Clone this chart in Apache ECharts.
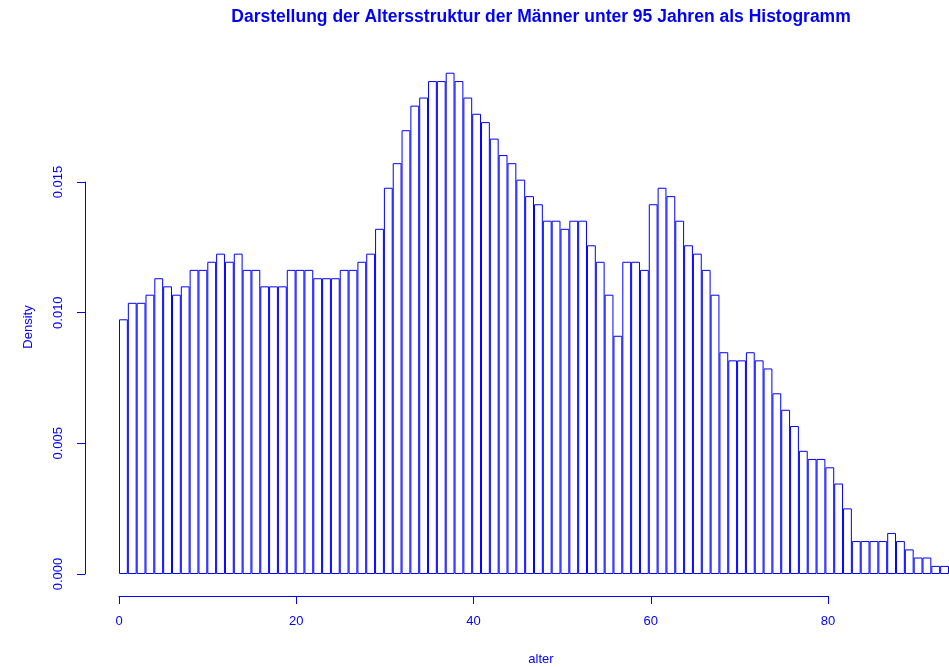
<!DOCTYPE html>
<html>
<head>
<meta charset="utf-8">
<script src="https://cdn.jsdelivr.net/npm/echarts@6/dist/echarts.min.js"></script>
<style>
  html, body { margin: 0; padding: 0; background: #fff; }
  #chart { width: 949px; height: 667px; }
</style>
</head>
<body>
<div id="chart"></div>
<script>
// Altersklassen 0..93 (Breite 1 Jahr)
const bins = ['0','1','2','3','4','5','6','7','8','9','10','11','12','13','14','15','16','17','18','19',
  '20','21','22','23','24','25','26','27','28','29','30','31','32','33','34','35','36','37','38','39',
  '40','41','42','43','44','45','46','47','48','49','50','51','52','53','54','55','56','57','58','59',
  '60','61','62','63','64','65','66','67','68','69','70','71','72','73','74','75','76','77','78','79',
  '80','81','82','83','84','85','86','87','88','89','90','91','92','93']

// Dichte je Klasse
const density = [
  0.00974, 0.01037, 0.01037, 0.01068, 0.01131, 0.01100, 0.01068, 0.01100, 0.01163, 0.01163,
  0.01194, 0.01225, 0.01194, 0.01225, 0.01163, 0.01163, 0.01100, 0.01100, 0.01100, 0.01163,
  0.01163, 0.01163, 0.01131, 0.01131, 0.01131, 0.01163, 0.01163, 0.01194, 0.01225, 0.01320,
  0.01477, 0.01571, 0.01697, 0.01791, 0.01822, 0.01885, 0.01885, 0.01917, 0.01885, 0.01822,
  0.01760, 0.01728, 0.01665, 0.01602, 0.01571, 0.01508, 0.01445, 0.01414, 0.01351, 0.01351,
  0.01320, 0.01351, 0.01351, 0.01257, 0.01194, 0.01068, 0.00911, 0.01194, 0.01194, 0.01163,
  0.01414, 0.01477, 0.01445, 0.01351, 0.01257, 0.01225, 0.01163, 0.01068, 0.00848, 0.00817,
  0.00817, 0.00848, 0.00817, 0.00786, 0.00691, 0.00628, 0.00566, 0.00471, 0.00440, 0.00440,
  0.00408, 0.00346, 0.00251, 0.00126, 0.00126, 0.00126, 0.00126, 0.00157, 0.00126, 0.00094,
  0.00063, 0.00063, 0.00031, 0.00031
]

const xTicks = [0, 20, 40, 60, 80]
const yTicks = [0, 0.005, 0.010, 0.015]

const blue = '#0000ff'
const font = 'Liberation Sans, Arial, sans-serif'

const chart = echarts.init(document.getElementById('chart'))

const option = {
  animation: false,
  backgroundColor: '#fff',
  grid: [
    // Balken (0.02 oben, 0 unten bei y=574)
    { left: 119, right: -3, top: 51, bottom: 93 },
    // x-Achse darunter
    { left: 119, width: 709, bottom: 71, height: 1 },
    // y-Achse links
    { left: 85, width: 1, top: 182, bottom: 93 }
  ],
  xAxis: [
    { gridIndex: 0, type: 'category', data: bins, show: false, boundaryGap: true },
    {
      gridIndex: 1, type: 'value', min: xTicks[0], max: xTicks[xTicks.length - 1], interval: 20,
      position: 'bottom',
      axisLine: { lineStyle: { color: blue, width: 1 } },
      axisTick: { length: 8, lineStyle: { color: blue } },
      axisLabel: { color: blue, fontSize: 13, fontFamily: font, margin: 19 },
      splitLine: { show: false }
    },
    { gridIndex: 2, type: 'value', show: false }
  ],
  yAxis: [
    { gridIndex: 0, type: 'value', min: 0, max: 0.02, show: false },
    { gridIndex: 1, type: 'value', show: false },
    {
      gridIndex: 2, type: 'value', min: yTicks[0], max: yTicks[yTicks.length - 1], interval: 0.005,
      position: 'left',
      axisLine: { show: true, lineStyle: { color: blue, width: 1 } },
      axisTick: { show: true, length: 8, lineStyle: { color: blue } },
      axisLabel: {
        color: blue, fontSize: 13, fontFamily: font, rotate: 90, margin: 20,
        formatter: v => v.toFixed(3)
      },
      splitLine: { show: false }
    }
  ],
  graphic: [
    {
      type: 'text',
      style: {
        x: 541, y: 17, text: 'Darstellung der Altersstruktur der Männer unter 95 Jahren als Histogramm',
        fill: blue, font: 'bold 17.5px ' + font, textAlign: 'center', textVerticalAlign: 'middle'
      }
    },
    {
      type: 'text',
      style: {
        x: 541, y: 659, text: 'alter', fill: blue, font: '13px ' + font,
        textAlign: 'center', textVerticalAlign: 'middle'
      }
    },
    {
      type: 'text', x: 28, y: 327, rotation: Math.PI / 2,
      style: {
        x: 0, y: 0, text: 'Density', fill: blue, font: '13px ' + font,
        textAlign: 'center', textVerticalAlign: 'middle'
      }
    }
  ],
  series: [
    {
      type: 'bar',
      xAxisIndex: 0, yAxisIndex: 0,
      data: density,
      barCategoryGap: '0%',
      itemStyle: { color: '#fff', borderColor: blue, borderWidth: 1 },
      emphasis: { disabled: true }
    }
  ]
}

chart.setOption(option)
</script>
</body>
</html>
